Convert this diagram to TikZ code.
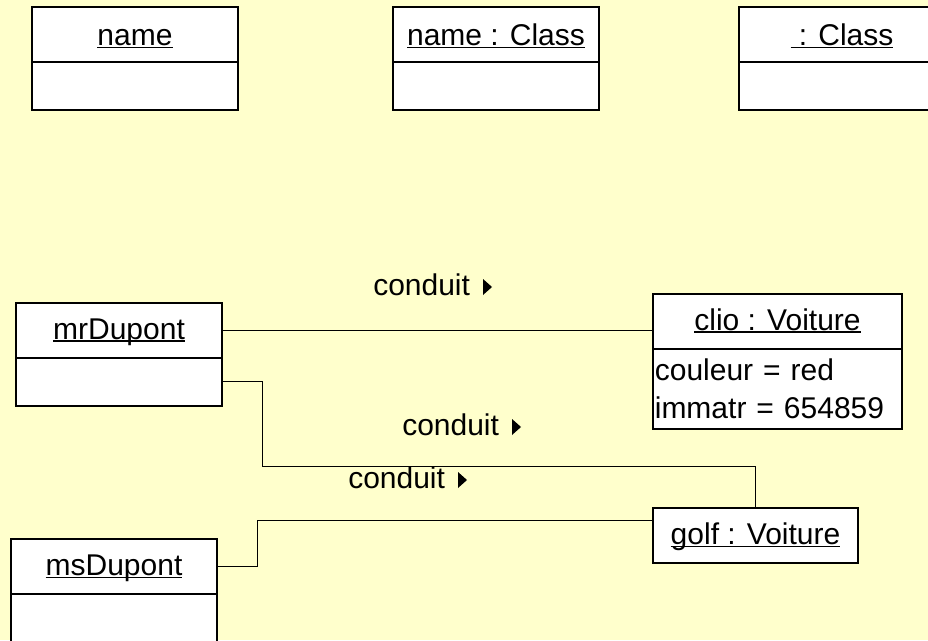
\documentclass[tikz,border=0pt]{standalone}
\usepackage{fontspec}
\setmainfont{Liberation Sans}
\usepackage{tikz}
\usetikzlibrary{positioning}
\definecolor{bgyellow}{HTML}{FFFFCC}
\newcommand\umlfont{\fontsize{22.5}{28.5}\selectfont}
\newsavebox\ulbox
\newcommand\uln[1]{\sbox\ulbox{#1}\rlap{\rule[-2.2pt]{\wd\ulbox}{1.1pt}}\usebox\ulbox}
\newcommand\rtri{\tikz[x=1pt,y=1pt]\fill (0,0)--(0,12)--(6.75,6)--cycle;}
\tikzstyle{head} = [draw, line width=1.5pt, fill=white, inner sep=0pt, outer sep=0pt, minimum width=154.5pt, minimum height=41.25pt, text height=17pt, text depth=3.5pt, font=\umlfont]
\tikzstyle{body} = [draw, line width=1.5pt, fill=white, inner sep=0pt, outer sep=0pt, minimum width=154.5pt, minimum height=36pt]
\tikzstyle{link} = [line width=0.75pt]
\tikzstyle{role} = [font=\umlfont, inner sep=0pt, anchor=base west]

\begin{document}
\begin{tikzpicture}[x=0.75pt,y=-0.75pt]
        \fill[bgyellow] (0,0) rectangle (928,640);
        \useasboundingbox (0,0) rectangle (928,640);
        % notations
        \foreach \id/\x/\txt in {name/135/name, named/496/name : Class, anon/842/\ : Class}{
            \node[head, text depth=1pt] (\id) at (\x,34.5) {\uln{\txt}};
            \node[body, below=0pt of \id] (\id-b) {};
        }
        % objects
        \node[head] (mr) at (119,330) {\uln{mrDupont}};
        \node[body, below=0pt of mr] (mr-b) {};
        \node[head] (ms) at (114,566.5) {\uln{msDupont}};
        \node[body, below=0pt of ms] (ms-b) {};
        \node[head, minimum width=186.75pt] (clio) at (777.5,321) {\uln{clio : Voiture}};
        \node[body, below=0pt of clio, minimum width=186.75pt, minimum height=60pt, text width=184pt, inner xsep=1.4pt, align=left, font=\umlfont] (clio-b) {couleur = red\\immatr = 654859};
        \node[head, minimum width=153.75pt] (golf) at (755.5,535.5) {\uln{golf : Voiture}};
        % links
        \coordinate (bend1) at (262,466);
        \coordinate (bend2) at (257,520);
        \draw[link] (mr.east) -- (mr.east -| clio.west);
        \draw[link] (mr-b.east) -| (bend1) -| (golf.north);
        \draw[link] (ms.east) -| (bend2) -- (bend2 -| golf.west);
        \foreach \x/\y [count=\i] in {373/295, 402/435, 348/488}{
            \node[role] (role\i) at (\x,\y) {conduit\hspace{9.75pt}\rtri};
        }
    \end{tikzpicture}
\end{document}
